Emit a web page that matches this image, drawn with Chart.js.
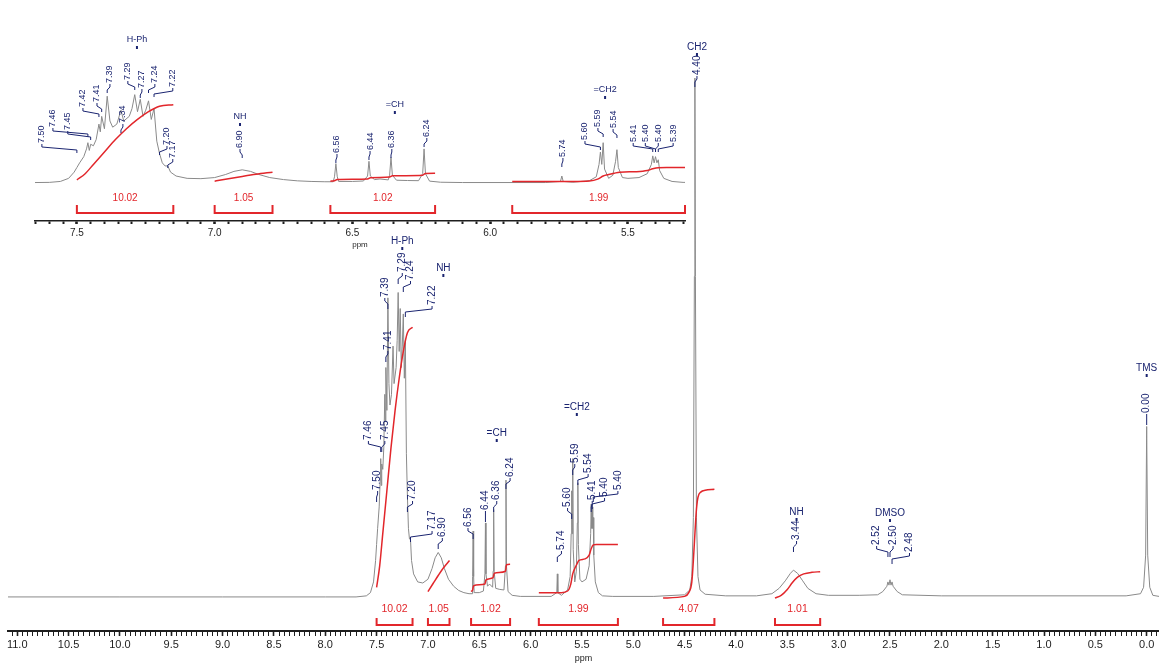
<!DOCTYPE html>
<html><head><meta charset="utf-8">
<script src="https://cdn.jsdelivr.net/npm/chart.js@4.4.1/dist/chart.umd.min.js"></script>
<style>
html,body{margin:0;padding:0;background:#fff;overflow:hidden}
#wrap{position:relative;width:1159px;height:664px}
canvas{position:absolute;left:0;top:0}
#inset{z-index:2}
</style></head><body>
<div id="wrap"><canvas id="main" width="1159" height="664"></canvas><canvas id="inset" width="700" height="250"></canvas></div>
<script>
// ---------------- DATA ----------------
// 1H NMR spectrum: [chemical shift (ppm), relative intensity (CH2 = ~100)]
const spectrumPoints = [
 [11.09,0.2],[10.0,0.2],[9.0,0.2],[8.0,0.2],[7.70,0.2],[7.60,0.4],[7.56,1.0],[7.53,3],[7.51,7],[7.50,10],
 [7.49,13],[7.475,17],[7.465,22],[7.46,26],[7.455,21],[7.45,25],[7.44,24],[7.43,28],[7.42,38],[7.415,33],
 [7.41,43],[7.40,35],[7.39,56],[7.38,40],[7.37,36],[7.355,38],[7.34,47],[7.33,40],[7.31,43],[7.30,48],
 [7.29,57],[7.28,46],[7.27,54],[7.26,43],[7.25,47],[7.24,53],[7.23,41],[7.22,48],[7.21,27],[7.20,19],
 [7.19,13],[7.18,11],[7.17,11],[7.16,7],[7.14,4.5],[7.10,3],[7.05,2.8],[7.00,3.5],[6.96,5.5],[6.93,7.5],
 [6.90,8.5],[6.87,7.5],[6.84,5.5],[6.80,3.5],[6.75,2.2],[6.70,1.4],[6.65,1.0],[6.60,0.8],[6.57,0.8],[6.565,4],
 [6.56,12.5],[6.555,4],[6.55,1],[6.50,1],[6.46,1.3],[6.445,4.5],[6.44,14],[6.435,4.5],[6.42,2.2],[6.40,2.6],
 [6.37,2],[6.365,5],[6.36,16.5],[6.355,5],[6.34,1.8],[6.30,1.6],[6.26,1.5],[6.245,6],[6.24,22],[6.235,6],
 [6.22,1.2],[6.18,0.5],[6.10,0.3],[5.80,0.3],[5.745,1],[5.74,4.5],[5.735,1],[5.70,0.5],[5.64,1.5],[5.615,4],
 [5.605,12],[5.60,20],[5.595,12],[5.59,26],[5.585,9],[5.57,3],[5.555,5],[5.545,14],[5.54,21.5],[5.535,10],
 [5.52,3.5],[5.50,3],[5.46,3.5],[5.43,6],[5.415,12],[5.41,17.5],[5.405,13],[5.40,17],[5.395,13],[5.39,15],
 [5.385,8],[5.37,3],[5.34,1],[5.30,0.4],[5.20,0.3],[4.80,0.3],[4.50,0.6],[4.45,1.5],[4.43,4],[4.415,15],
 [4.405,60],[4.40,97],[4.395,60],[4.385,15],[4.37,4],[4.35,1.5],[4.30,0.7],[4.10,0.4],[3.80,0.4],[3.65,0.8],
 [3.58,1.8],[3.52,3.2],[3.47,4.6],[3.44,5.2],[3.40,4.6],[3.35,3.2],[3.30,1.8],[3.22,0.8],[3.10,0.5],[2.80,0.5],
 [2.62,0.6],[2.57,1.2],[2.53,2.2],[2.52,3.0],[2.51,2.4],[2.50,3.4],[2.49,2.4],[2.48,3.0],[2.47,2.2],[2.43,1.2],
 [2.38,0.6],[2.00,0.4],[1.00,0.4],[0.20,0.4],[0.06,0.8],[0.03,2],[0.01,8],[0.00,32],[-0.01,8],[-0.03,2],
 [-0.06,0.5],[-0.12,0.3]
];

// integral curves [ppm, cumulative height]
const integral1002 = [[7.50,2],[7.47,6],[7.44,12],[7.40,20],[7.36,28],[7.32,35],[7.28,41],[7.24,46],[7.20,49.5],[7.15,50.5]];
const integral105  = [[7.00,1.2],[6.95,2.7],[6.90,4.2],[6.85,5.6],[6.79,7]];
const integral102  = [[6.58,1.2],[6.565,1.5],[6.555,2.3],[6.445,2.6],[6.435,3.4],[6.365,3.8],[6.355,4.6],[6.245,5],[6.235,6.2],[6.20,6.3]];
const integral199  = [[5.92,1],[5.70,1],[5.64,1.3],[5.61,2.5],[5.59,4.5],[5.57,5.5],[5.55,6.3],[5.53,7],[5.47,7.3],[5.43,8],[5.41,9.2],[5.39,9.9],[5.36,10],[5.15,10]];
const integral407  = [[4.71,0],[4.50,0.3],[4.46,1],[4.43,3],[4.415,7],[4.40,12],[4.385,16.5],[4.37,18.8],[4.34,19.8],[4.30,20.1],[4.21,20.3]];
const integral101  = [[3.62,0],[3.56,0.5],[3.50,1.6],[3.45,2.9],[3.40,3.9],[3.34,4.5],[3.26,4.8],[3.18,4.9]];
const integralCurves = [integral1002, integral105, integral102, integral199, integral407, integral101];

// integration ranges and values
const integralFrom   = [7.50, 7.00, 6.58, 5.92, 4.71, 3.62];
const integralTo     = [7.15, 6.79, 6.20, 5.15, 4.21, 3.18];
const integralValues = ['10.02', '1.05', '1.02', '1.99', '4.07', '1.01'];

// peak picking labels: [text, peak ppm]
const mainPeakText = ['7.50','7.46','7.45','7.41','7.39','7.29','7.24','7.22','7.20','7.17','6.90','6.56','6.44','6.36','6.24','5.74','5.60','5.59','5.54','5.41','5.40','5.40','4.40','3.44','2.52','2.50','2.48','0.00'];
const mainPeakPpm  = [7.50,7.46,7.45,7.41,7.39,7.29,7.24,7.22,7.20,7.17,6.90,6.56,6.44,6.36,6.24,5.74,5.60,5.59,5.54,5.41,5.40,5.39,4.40,3.44,2.52,2.50,2.48,0.00];
const insetPeakText = ['7.50','7.46','7.45','7.42','7.41','7.39','7.34','7.29','7.27','7.24','7.22','7.20','7.17','6.90','6.56','6.44','6.36','6.24','5.74','5.60','5.59','5.54','5.41','5.40','5.40','5.39'];
const insetPeakPpm  = [7.50,7.46,7.45,7.42,7.41,7.39,7.34,7.29,7.27,7.24,7.22,7.20,7.17,6.90,6.56,6.44,6.36,6.24,5.74,5.60,5.59,5.54,5.41,5.40,5.40,5.39];
const groupText = ['H-Ph','NH','=CH','=CH2','CH2','NH','DMSO','TMS'];

// ---------------- LAYOUT (label placement, not data) ----------------
const FONT = '"Liberation Sans", Arial, Helvetica, sans-serif';
const NAVY = '#1a2470', RED = '#e2262b', GRAY = '#8a8a8a', INK = '#1e1e1e';
// label x (ppm on the scale) and text-bottom height above baseline (px)
const mainLabelPos = [[7.49,108],[7.58,158],[7.42,158],[7.39,248],[7.42,301],[7.25,326],[7.17,318],[6.96,293],[7.15,98],[6.96,68],
 [6.86,61],[6.61,71],[6.44,88],[6.33,98],[6.20,121],[5.70,48],[5.64,91],[5.57,135],[5.44,125],[5.40,98],[5.28,101],[5.15,108],
 [4.38,523],[3.41,58],[2.63,53],[2.47,53],[2.31,46],[0.00,185]];
const mainGroupPos = [[7.25,357],[6.85,330],[6.33,165],[5.55,191],[4.38,551],[3.41,86],[2.50,85],[0.00,230]];
const insetLabelPos = [[7.627,40],[7.587,56],[7.533,53],[7.478,76],[7.427,81],[7.380,100],[7.333,60],[7.315,103],[7.264,95],[7.217,100],
 [7.152,96],[7.173,38],[7.152,25],[6.908,35],[6.556,30],[6.436,33],[6.357,35],[6.230,46],[5.736,26],[5.656,43],[5.609,56],[5.554,55],
 [5.481,41],[5.437,41],[5.390,41],[5.336,41]];
const insetGroupPos = [[7.282,143],[6.908,66],[6.346,78],[5.583,93]];

const isMajor = v => Math.abs(v*2 - Math.round(v*2)) < 1e-6;
const toXY = arr => arr.map(([x,y]) => ({x, y}));

function makeAnnotator(cfg) {
  return {
    id: 'annot_' + cfg.name,
    afterDatasetsDraw(chart) {
      const {ctx, chartArea} = chart;
      const xs = chart.scales.x, ys = chart.scales.y;
      const base = ys.getPixelForValue(0);
      ctx.save();
      // integration brackets
      ctx.strokeStyle = RED; ctx.fillStyle = RED; ctx.lineWidth = 2;
      ctx.font = cfg.intFont + 'px ' + FONT; ctx.textAlign = 'center'; ctx.textBaseline = 'middle';
      for (let i = 0; i < cfg.nInt; i++) {
        let x1 = xs.getPixelForValue(integralFrom[i]), x2 = xs.getPixelForValue(integralTo[i]);
        x1 = Math.max(chartArea.left, Math.min(chartArea.right, x1));
        x2 = Math.max(chartArea.left, Math.min(chartArea.right, x2));
        const yt = base + cfg.brTop, yb = base + cfg.brBot;
        ctx.beginPath(); ctx.moveTo(x1, yt); ctx.lineTo(x1, yb); ctx.lineTo(x2, yb); ctx.lineTo(x2, yt); ctx.stroke();
        ctx.fillText(integralValues[i], (x1 + x2) / 2, base + cfg.intText);
      }
      // peak labels
      ctx.strokeStyle = NAVY; ctx.fillStyle = NAVY; ctx.lineWidth = 1;
      ctx.font = cfg.peakFont + 'px ' + FONT;
      cfg.peakText.forEach((t, i) => {
        const px = xs.getPixelForValue(cfg.peakPpm[i]);
        const lx = xs.getPixelForValue(cfg.labelPos[i][0]);
        const yb = base - cfg.labelPos[i][1];
        ctx.save(); ctx.translate(lx, yb); ctx.rotate(-Math.PI / 2);
        ctx.textAlign = 'left'; ctx.textBaseline = 'middle';
        ctx.fillText(t, 0, 0); ctx.restore();
        ctx.beginPath();
        ctx.moveTo(lx, yb + 1); ctx.lineTo(lx, yb + 4);
        ctx.lineTo(px, yb + 7); ctx.lineTo(px, yb + cfg.tail);
        ctx.stroke();
      });
      // group labels
      ctx.font = cfg.groupFont + 'px ' + FONT; ctx.textAlign = 'center'; ctx.textBaseline = 'middle';
      cfg.groupPos.forEach((g, i) => {
        const gx = xs.getPixelForValue(g[0]), gy = base - g[1];
        ctx.fillText(cfg.groupText[i], gx, gy);
        ctx.fillRect(gx - 1, gy + 6, 2, 3);
      });
      ctx.restore();
    }
  };
}

function xScale(o) {
  return {
    type: 'linear', reverse: true, min: o.min, max: o.max,
    afterBuildTicks(s) { const t = []; for (let i = o.i0; i <= o.i1; i++) t.push({value: Math.round(i * 5) / 100}); s.ticks = t; },
    afterFit(s) { s.height = o.h; },
    ticks: { autoSkip: false, maxRotation: 0, minRotation: 0, padding: o.pad, color: INK,
      font: {family: FONT, size: o.fs},
      callback: v => (isMajor(v) && v >= o.lmin - 1e-6 && v <= o.lmax + 1e-6) ? v.toFixed(1) : '' },
    grid: { display: true, drawOnChartArea: false, drawTicks: true, tickLength: o.tl,
      tickWidth: c => (c.tick && isMajor(c.tick.value)) ? o.tw + 0.6 : o.tw, tickColor: INK, color: INK },
    border: { display: true, color: INK, width: o.bw },
    title: { display: true, text: 'ppm', color: INK, font: {family: FONT, size: o.tfs}, padding: 0 }
  };
}

function datasets() {
  const ds = [{data: toXY(spectrumPoints), borderColor: GRAY, borderWidth: 1, pointRadius: 0, tension: 0, order: 2}];
  integralCurves.forEach(c => ds.push({data: toXY(c), borderColor: RED, borderWidth: 1.5, pointRadius: 0,
    cubicInterpolationMode: 'monotone', order: 1}));
  return ds;
}

function makeChart(id, o, ann) {
  return new Chart(document.getElementById(id), {
    type: 'line',
    data: { datasets: datasets() },
    options: {
      responsive: false, animation: false, devicePixelRatio: 1, events: [],
      layout: { padding: o.padding },
      plugins: { legend: {display: false}, tooltip: {enabled: false} },
      scales: { x: xScale(o), y: { type: 'linear', display: false, min: o.ymin, max: o.ymax } }
    },
    plugins: [makeAnnotator(ann)]
  });
}

// main spectrum: baseline 598px, 5.36 px per intensity unit, axis at 631px
makeChart('main', {
  min: -0.12, max: 11.09, i0: -2, i1: 221, lmin: 0, lmax: 11, h: 33, pad: 2, fs: 11, tl: 5, tw: 1, bw: 2, tfs: 9,
  padding: {left: 8, right: 0, top: 0, bottom: 0}, ymin: -33 / 5.36, ymax: 598 / 5.36
}, {
  name: 'main', nInt: 6, brTop: 20, brBot: 27, intText: 11, intFont: 10.5, peakFont: 10, groupFont: 10, tail: 12,
  peakText: mainPeakText, peakPpm: mainPeakPpm, labelPos: mainLabelPos, groupText: groupText, groupPos: mainGroupPos
});

// expansion inset: baseline 183px, 1.55 px per unit, axis at 221px
makeChart('inset', {
  min: 5.293, max: 7.652, i0: 106, i1: 153, lmin: 5.5, lmax: 7.5, h: 29, pad: 3, fs: 10, tl: 3, tw: 2, bw: 1.5, tfs: 8,
  padding: {left: 35, right: 15, top: 0, bottom: 0}, ymin: -38 / 1.55, ymax: 183 / 1.55
}, {
  name: 'inset', nInt: 4, brTop: 22, brBot: 30, intText: 15, intFont: 10, peakFont: 9, groupFont: 9, tail: 10,
  peakText: insetPeakText, peakPpm: insetPeakPpm, labelPos: insetLabelPos, groupText: groupText.slice(0, 4), groupPos: insetGroupPos
});
</script>
</body></html>
